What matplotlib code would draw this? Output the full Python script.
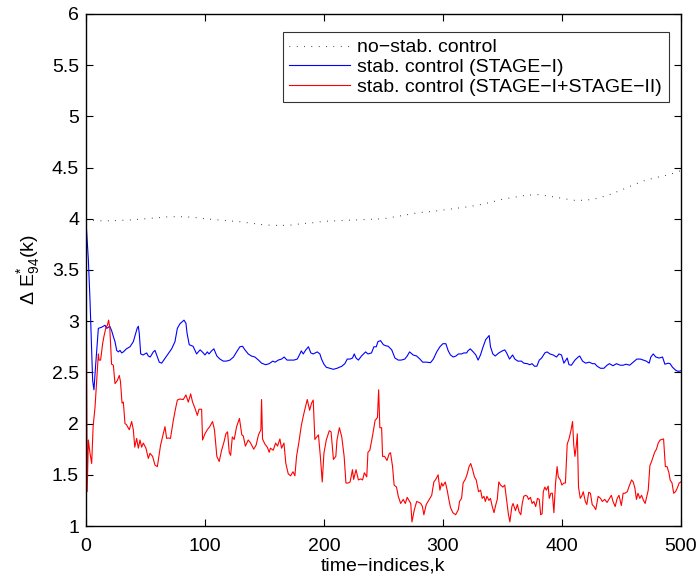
import matplotlib
matplotlib.use("Agg")
import matplotlib.pyplot as plt

plt.rcParams['font.family'] = ['Liberation Sans', 'DejaVu Sans']
plt.rcParams['mathtext.fontset'] = 'custom'
plt.rcParams['mathtext.rm'] = 'Liberation Sans'
plt.rcParams['mathtext.it'] = 'Liberation Sans'
plt.rcParams['mathtext.bf'] = 'Liberation Sans'

# ---- no-stabilisation control ----
nostab_k = [0, 10, 20, 30, 40, 50, 60, 70, 80, 90, 100, 110, 120, 130, 140, 150,
            160, 170, 180, 190, 200, 210, 220, 230, 240, 250, 260, 270, 280, 290,
            300, 310, 320, 330, 340, 350, 360, 370, 380, 390, 400, 410, 420, 430,
            440, 450, 460, 470, 480, 490, 500]
nostab_e = [3.99, 3.98, 3.98, 3.985, 3.99, 4.0, 4.01, 4.02, 4.02, 4.015, 4.0, 3.99,
            3.98, 3.97, 3.955, 3.94, 3.935, 3.935, 3.95, 3.96, 3.975, 3.98, 3.985,
            3.99, 3.995, 4.0, 4.02, 4.04, 4.06, 4.07, 4.085, 4.10, 4.115, 4.135,
            4.16, 4.19, 4.21, 4.23, 4.235, 4.22, 4.20, 4.18, 4.18, 4.20, 4.235,
            4.28, 4.33, 4.375, 4.405, 4.43, 4.47]

# ---- stabilising control, stage I ----
stage1_k = [0, 2, 3.4, 5.6, 6.7, 8, 10.4, 13, 16, 17.5, 18.8, 20, 21.5, 23, 24.4,
            25.8, 27.2, 28.6, 30, 31.4, 34, 37, 39.8, 41, 43, 44, 44.8, 46, 48, 51,
            52.4, 54, 56.6, 58, 59.4, 61.6, 63.6, 66, 69, 72, 74.8, 76.8, 79, 82.4,
            84, 85, 86.8, 88.8, 90, 91.6, 93, 94.4, 96, 98.6, 100, 102, 103.4,
            105.6, 107.5, 110, 112.6, 115.4, 118, 121, 124, 126.6, 129.4, 131.6,
            133.6, 136.4, 139, 142, 145, 147.6, 151, 154, 157, 159, 161.6, 164.4,
            166.6, 169, 171.4, 174.8, 177.6, 179.8, 181, 182.6, 184.8, 187, 189,
            191, 194.4, 196.6, 198, 200, 202, 205, 208, 211, 215, 217.6, 219.6, 222,
            224, 225.5, 227, 229, 231.6, 235, 237, 240, 242, 244, 245.4, 247.6, 250,
            252, 254, 257, 259.7, 262.5, 265, 268, 270, 272, 275, 277.9, 280.7, 283,
            286, 289.6, 292, 294.8, 297.5, 300, 302.5, 304.5, 306.4, 308.7, 311,
            313, 315.6, 317.6, 320, 321, 323, 325.5, 327.7, 329.6, 331.6, 333.8,
            336, 338.9, 340, 342, 344, 347, 350, 352, 353.6, 356, 358.6, 360.5, 363,
            366, 368, 371, 373, 375, 377, 379, 381, 383, 385.7, 387.6, 390, 392.7,
            395.5, 397.6, 399.7, 401.7, 403.4, 404.5, 406, 408, 411, 413.7, 415,
            417.4, 420, 422.9, 425.8, 427.7, 429.7, 432.5, 435.3, 438, 440, 443,
            445.9, 449, 451.5, 454, 457, 460, 463, 466, 468.6, 471, 473.4, 474.8,
            476.8, 479, 481.8, 484.6, 486.6, 489.5, 491, 493, 495.8, 497.8, 500]
stage1_e = [3.98, 3.6, 3.20, 2.42, 2.33, 2.55, 2.93, 2.94, 2.96, 2.93, 2.94, 2.95,
            2.91, 2.85, 2.80, 2.715, 2.70, 2.715, 2.69, 2.70, 2.73, 2.75, 2.80,
            2.85, 2.93, 2.95, 2.88, 2.68, 2.67, 2.69, 2.66, 2.65, 2.70, 2.715, 2.67,
            2.60, 2.59, 2.63, 2.68, 2.73, 2.80, 2.93, 2.975, 3.01, 2.98, 2.88, 2.77,
            2.76, 2.755, 2.715, 2.68, 2.70, 2.72, 2.69, 2.67, 2.70, 2.68, 2.71,
            2.73, 2.66, 2.63, 2.61, 2.61, 2.62, 2.65, 2.70, 2.75, 2.755, 2.72, 2.68,
            2.66, 2.65, 2.62, 2.59, 2.575, 2.585, 2.61, 2.60, 2.62, 2.63, 2.65,
            2.62, 2.62, 2.62, 2.63, 2.68, 2.71, 2.68, 2.72, 2.75, 2.69, 2.68, 2.70,
            2.68, 2.63, 2.58, 2.55, 2.54, 2.53, 2.54, 2.56, 2.585, 2.63, 2.63, 2.64,
            2.68, 2.64, 2.62, 2.66, 2.70, 2.68, 2.69, 2.75, 2.75, 2.80, 2.81, 2.77,
            2.76, 2.755, 2.72, 2.64, 2.62, 2.62, 2.63, 2.66, 2.70, 2.67, 2.66, 2.63,
            2.60, 2.60, 2.595, 2.63, 2.70, 2.75, 2.78, 2.78, 2.71, 2.67, 2.65, 2.66,
            2.68, 2.68, 2.69, 2.69, 2.71, 2.73, 2.70, 2.67, 2.62, 2.67, 2.75, 2.82,
            2.86, 2.75, 2.68, 2.66, 2.69, 2.71, 2.72, 2.69, 2.63, 2.67, 2.63, 2.61,
            2.61, 2.59, 2.585, 2.575, 2.585, 2.56, 2.56, 2.62, 2.64, 2.69, 2.70,
            2.68, 2.67, 2.65, 2.68, 2.67, 2.59, 2.62, 2.64, 2.575, 2.57, 2.62, 2.65,
            2.66, 2.61, 2.59, 2.60, 2.585, 2.585, 2.56, 2.54, 2.54, 2.57, 2.585,
            2.565, 2.585, 2.57, 2.57, 2.58, 2.57, 2.60, 2.63, 2.63, 2.62, 2.61,
            2.59, 2.65, 2.68, 2.65, 2.64, 2.65, 2.58, 2.59, 2.585, 2.55, 2.52, 2.51,
            2.515]

# ---- stabilising control, stage I + stage II ----
stage12_k = [0, 1, 2, 3.4, 4.8, 6, 7.6, 9, 10.4, 11, 12.3, 14, 15, 16.8, 18, 19, 20,
             21.5, 23, 24.4, 26.3, 28, 29, 30.3, 31.4, 32.8, 34, 36.4, 38.4, 39.8,
             41, 42.6, 44, 45.4, 46.8, 48.2, 50.4, 52.4, 53.8, 56, 58, 60, 61.3,
             62.7, 65, 66.4, 67.8, 69, 71, 73.4, 75, 76.8, 79, 81.8, 84, 86, 88,
             89.6, 91.6, 93.6, 95, 97.2, 98, 100, 102, 104, 106.4, 108, 110, 112,
             114, 116, 117.6, 119, 120.4, 121.6, 123, 124.6, 126.6, 129, 131, 132.2,
             134, 136.4, 138.4, 141, 143, 145, 147, 147.6, 148.4, 150.4, 152.4, 154,
             155, 157.4, 159.4, 161, 163, 164.4, 166.4, 168, 170, 172, 174, 175.6,
             177, 179, 181, 182.6, 184, 186, 188, 189.6, 191, 192.4, 194, 195.4, 197,
             198.6, 200, 202, 204.5, 206, 208, 210, 211, 213, 215, 217, 218.5, 220.4,
             222, 224, 225, 227, 229, 231, 232.5, 234, 236, 237, 238.6, 241, 243,
             245, 246, 247, 248.5, 249.3, 251, 253, 255, 256, 257.7, 259, 261, 262.5,
             264.5, 266.7, 268.4, 270, 272, 273, 274, 276, 278, 280, 281.4, 282.8,
             284, 286, 288.6, 290.6, 292.4, 294, 296, 297.5, 298.9, 300, 302, 303.6,
             305, 306.4, 308.4, 310.7, 313, 314, 315.7, 317, 319, 320.5, 322, 323.4,
             325, 326.5, 328, 330, 331.7, 333, 334.5, 335.7, 337, 338.7, 340, 341.5,
             343, 344.3, 345.7, 347, 348.5, 350.4, 352, 353.6, 355, 356.3, 358, 359,
             361, 362.6, 364, 365.5, 366.7, 368, 369.5, 371, 372, 373.6, 375, 376.5,
             378, 379.5, 381, 382.2, 383.4, 384.4, 385.7, 387, 388.5, 389.4, 390.8,
             392, 393.3, 394.7, 396, 397, 398.7, 400, 401.7, 403, 404.5, 406, 407.6,
             409, 410, 411, 412, 413, 414, 415.5, 417, 418, 419.7, 421, 422.6, 424,
             425.5, 427, 428.5, 430.5, 432.5, 434, 436, 438, 440, 441.6, 443, 444.8,
             446.5, 448, 450, 451.5, 453, 455, 456.6, 458.6, 460, 461.4, 462.7, 464,
             465.5, 467, 468.6, 470, 471, 472.6, 474, 475.4, 476.8, 478, 479.5, 481,
             482.6, 484, 485.5, 487, 488.4, 490, 491, 492.6, 494, 495.5, 497, 498.6,
             500]
stage12_e = [4.05, 1.335, 1.84, 1.71, 1.61, 1.97, 2.16, 2.42, 2.68, 2.62, 2.62,
             2.78, 2.845, 2.94, 2.96, 3.01, 2.94, 2.58, 2.57, 2.39, 2.42, 2.47, 2.41,
             2.20, 2.21, 2.00, 1.99, 1.94, 2.02, 1.94, 1.77, 1.855, 1.76, 1.84, 1.77,
             1.81, 1.76, 1.66, 1.71, 1.68, 1.595, 1.58, 1.68, 1.79, 1.90, 1.97,
             1.855, 1.86, 1.855, 2.03, 2.13, 2.23, 2.24, 2.235, 2.28, 2.21, 2.29,
             2.21, 2.15, 2.08, 2.14, 2.14, 1.84, 1.90, 1.94, 1.97, 2.02, 1.94, 1.68,
             1.63, 1.74, 1.82, 1.90, 1.92, 1.72, 1.69, 1.87, 1.845, 1.97, 2.05, 1.89,
             1.88, 1.78, 1.84, 1.81, 1.75, 1.79, 1.89, 1.94, 2.235, 1.85, 1.80, 1.77,
             1.72, 1.76, 1.74, 1.81, 1.78, 1.85, 1.76, 1.81, 1.61, 1.51, 1.49, 1.53,
             1.49, 1.68, 1.82, 1.98, 2.07, 2.14, 2.235, 2.13, 2.20, 2.23, 1.845, 1.87,
             1.89, 1.68, 1.43, 1.71, 1.84, 1.93, 1.92, 1.65, 1.68, 1.84, 1.96, 1.87,
             1.68, 1.42, 1.42, 1.43, 1.55, 1.455, 1.55, 1.45, 1.46, 1.45, 1.52, 1.48,
             1.72, 1.74, 1.89, 2.03, 2.06, 2.33, 1.96, 1.96, 1.68, 1.68, 1.64, 1.71,
             1.715, 1.58, 1.40, 1.38, 1.29, 1.22, 1.26, 1.22, 1.28, 1.24, 1.22, 1.04,
             1.16, 1.24, 1.23, 1.22, 1.19, 1.11, 1.21, 1.26, 1.30, 1.43, 1.455, 1.50,
             1.35, 1.42, 1.39, 1.43, 1.35, 1.26, 1.18, 1.13, 1.11, 1.16, 1.24, 1.27,
             1.42, 1.46, 1.51, 1.58, 1.61, 1.55, 1.48, 1.45, 1.335, 1.35, 1.27, 1.29,
             1.24, 1.29, 1.25, 1.27, 1.19, 1.13, 1.20, 1.26, 1.43, 1.40, 1.38, 1.40,
             1.25, 1.12, 1.04, 1.19, 1.22, 1.15, 1.21, 1.14, 1.11, 1.22, 1.29, 1.30,
             1.29, 1.26, 1.28, 1.22, 1.24, 1.19, 1.27, 1.26, 1.11, 1.12, 1.335, 1.38,
             1.35, 1.39, 1.27, 1.32, 1.32, 1.13, 1.42, 1.58, 1.48, 1.45, 1.40, 1.42,
             1.42, 1.80, 1.85, 1.93, 2.02, 1.79, 1.68, 1.77, 1.90, 1.38, 1.27, 1.30,
             1.335, 1.24, 1.21, 1.33, 1.32, 1.21, 1.19, 1.16, 1.29, 1.27, 1.24, 1.26,
             1.23, 1.27, 1.30, 1.24, 1.19, 1.27, 1.30, 1.20, 1.32, 1.32, 1.335, 1.39,
             1.45, 1.43, 1.37, 1.26, 1.32, 1.27, 1.30, 1.25, 1.22, 1.27, 1.35, 1.59,
             1.63, 1.68, 1.72, 1.75, 1.81, 1.84, 1.845, 1.85, 1.58, 1.58, 1.52, 1.45,
             1.42, 1.32, 1.335, 1.37, 1.42, 1.43]

x_ticks = [0, 100, 200, 300, 400, 500]
y_ticks = [1, 1.5, 2, 2.5, 3, 3.5, 4, 4.5, 5, 5.5, 6]
y_tick_labels = ['1', '1.5', '2', '2.5', '3', '3.5', '4', '4.5', '5', '5.5', '6']

fig = plt.figure(figsize=(6.99, 5.79), dpi=100)
ax = fig.add_axes([0.123, 0.0915, 0.851, 0.8845])

ax.plot(nostab_k, nostab_e, color='black', lw=0.8, linestyle=(0, (0.6, 6.0)),
        dash_capstyle='butt', label='no\u2212stab. control')
ax.plot(stage1_k, stage1_e, color=(0, 0, 1), lw=0.8,
        label='stab. control (STAGE\u2212I)')
ax.plot(stage12_k, stage12_e, color=(1, 0, 0), lw=0.8,
        label='stab. control (STAGE\u2212I+STAGE\u2212II)')

ax.set_xlim(0, 500)
ax.set_ylim(1, 6)
ax.set_xticks(x_ticks)
ax.set_xticklabels([str(v) for v in x_ticks])
ax.set_yticks(y_ticks)
ax.set_yticklabels(y_tick_labels)
ax.tick_params(direction='in', length=5, width=0.8, labelsize=14,
               top=True, right=True)
ax.tick_params(axis='x', pad=8.5)
ax.tick_params(axis='y', pad=5)
for s in ax.spines.values():
    s.set_linewidth(1.0)

ax.set_xlabel('time\u2212indices,k', fontsize=14, labelpad=2)
ax.set_ylabel(r'$\Delta\ \mathrm{E}^{*}_{94}\mathrm{(k)}$', fontsize=14, labelpad=7)

leg = ax.legend(loc='upper right', fontsize=14, frameon=True, fancybox=False,
                edgecolor='black', borderpad=0.35, labelspacing=0.1,
                handlelength=3.1, handletextpad=0.4, borderaxespad=0,
                bbox_to_anchor=(669 / 699, 1 - 32 / 579),
                bbox_transform=fig.transFigure)
leg.get_frame().set_linewidth(0.8)

fig.savefig('out.png', dpi=100)
